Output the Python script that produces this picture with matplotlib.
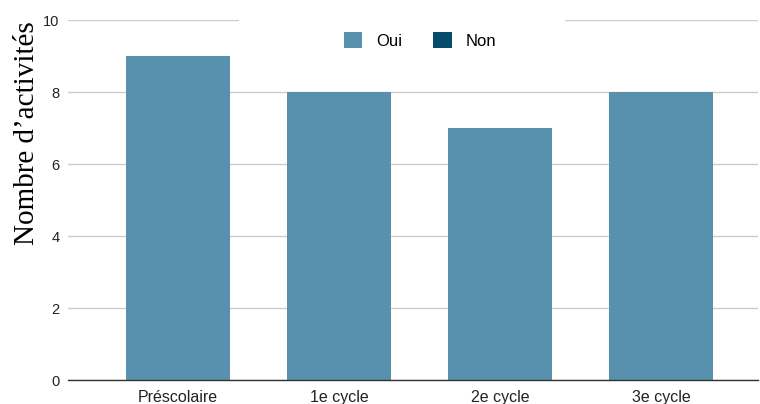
import matplotlib
matplotlib.use('Agg')
import matplotlib.pyplot as plt
from matplotlib.patches import Rectangle, Patch

categories = ['Préscolaire', '1e cycle', '2e cycle', '3e cycle']
oui = [9, 8, 7, 8]
non = [0, 0, 0, 0]
yticks = [0, 2, 4, 6, 8, 10]

oui_color = '#5891ae'
non_color = '#044c69'


def main():
    fig = plt.figure(figsize=(7.6, 4.04), dpi=100)
    ax = fig.add_axes([0.0895, 0.0594, 0.908, 0.891])

    x = range(len(categories))
    ax.bar(x, oui, width=0.645, color=oui_color, zorder=2)
    ax.bar(x, non, width=0.645, color=non_color, zorder=2)

    ax.set_xlim(-0.683, 3.6)
    ax.set_ylim(0, 10)
    ax.set_yticks(yticks)
    ax.set_xticks(list(x))
    ax.set_xticklabels(categories, family='Liberation Sans', fontsize=11.5,
                       color='#222222')
    for lbl in ax.get_yticklabels():
        lbl.set_family('Liberation Sans')
        lbl.set_fontsize(10.5)
        lbl.set_color('#222222')
    ax.tick_params(axis='y', length=0, pad=6)
    ax.tick_params(axis='x', length=0, pad=7)

    ax.yaxis.grid(True, color='#cccccc', linewidth=1, zorder=0)
    ax.set_axisbelow(True)
    for side in ['top', 'right', 'left']:
        ax.spines[side].set_visible(False)
    ax.spines['bottom'].set_color('#333333')
    ax.spines['bottom'].set_linewidth(1)
    ax.spines['bottom'].set_zorder(3)

    # white box behind the legend hides part of the top gridline
    ax.add_patch(Rectangle((0.248, 0.86), 0.472, 0.16, transform=ax.transAxes,
                           facecolor='white', edgecolor='none', zorder=1,
                           clip_on=False))

    handles = [Patch(facecolor=oui_color, edgecolor='none', label='Oui'),
               Patch(facecolor=non_color, edgecolor='none', label='Non')]
    ax.legend(handles=handles, loc='center', bbox_to_anchor=(0.51, 0.944),
              ncol=2, frameon=False, handlelength=1.1, handleheight=1.1,
              handletextpad=0.8, columnspacing=1.9,
              prop={'family': 'Liberation Sans', 'size': 12})

    ax.set_ylabel("Nombre d’activités", family='Liberation Serif',
                  fontsize=21)
    ax.yaxis.set_label_coords(-0.0405, 0.686)

    fig.savefig('out.png', dpi=100)


if __name__ == '__main__':
    main()
